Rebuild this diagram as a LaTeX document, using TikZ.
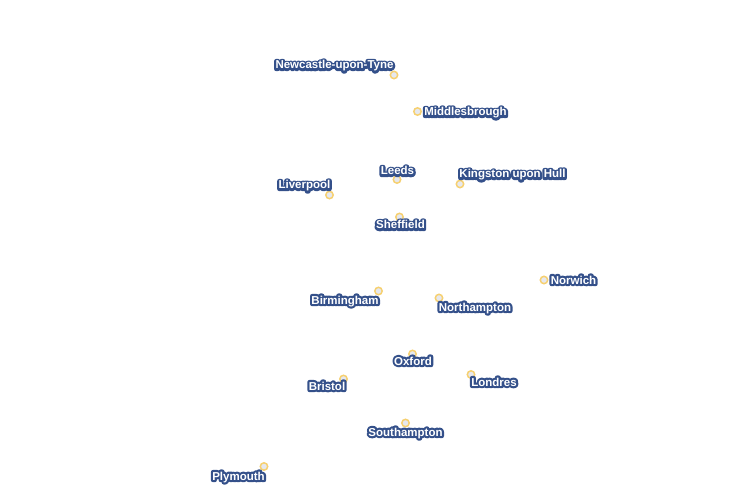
\documentclass[tikz,border=0pt]{standalone}
\usepackage{fontspec}
\setmainfont{Liberation Sans}
\definecolor{ringc}{HTML}{F6D070}
\definecolor{dotc}{HTML}{E6E8EE}
\newcommand\halotext[1]{%
  \rlap{\special{pdf:code q 2 Tr 4.4 w 1 j 1 J 0.204 0.314 0.541 RG 0.204 0.314 0.541 rg}#1\special{pdf:code Q}}%
  \textcolor{white}{#1}}
\tikzset{
  city/.style={circle,draw=ringc,fill=dotc,line width=1.5pt,minimum size=7.4pt,inner sep=0pt},
  citylabel/.style={inner sep=0pt,anchor=base,font=\fontsize{11.5}{14}\bfseries}
}
\begin{document}
\begin{tikzpicture}[x=1pt,y=-1pt]
\useasboundingbox (0,0) rectangle (750,500);
\node[city] (p1) at (394,75) {};
\node[city] (p2) at (417.5,111.5) {};
\node[city] (p3) at (397,179.5) {};
\node[city] (p4) at (460,184) {};
\node[city] (p5) at (329.5,195) {};
\node[city] (p6) at (399.5,217) {};
\node[city] (p7) at (544,280) {};
\node[city] (p8) at (378.5,291) {};
\node[city] (p9) at (439,298) {};
\node[city] (p10) at (412.5,354) {};
\node[city] (p11) at (471,374.5) {};
\node[city] (p12) at (343.5,379) {};
\node[city] (p13) at (405.5,423) {};
\node[city] (p14) at (264,466.5) {};
\node[citylabel] (l1) at (334.5,69) {\halotext{Newcastle-upon-Tyne}};
\node[citylabel] (l2) at (465.5,116) {\halotext{Middlesbrough}};
\node[citylabel] (l3) at (397.5,175) {\halotext{Leeds}};
\node[citylabel] (l4) at (512.5,178) {\halotext{Kingston upon Hull}};
\node[citylabel] (l5) at (304.5,189) {\halotext{Liverpool}};
\node[citylabel] (l6) at (400.5,229) {\halotext{Sheffield}};
\node[citylabel] (l7) at (573.5,284) {\halotext{Norwich}};
\node[citylabel] (l8) at (345,304) {\halotext{Birmingham}};
\node[citylabel] (l9) at (475,311) {\halotext{Northampton}};
\node[citylabel] (l10) at (413,365) {\halotext{Oxford}};
\node[citylabel] (l11) at (494,386) {\halotext{Londres}};
\node[citylabel] (l12) at (327,390) {\halotext{Bristol}};
\node[citylabel] (l13) at (405.5,436) {\halotext{Southampton}};
\node[citylabel] (l14) at (238.5,480) {\halotext{Plymouth}};
\end{tikzpicture}
\end{document}
